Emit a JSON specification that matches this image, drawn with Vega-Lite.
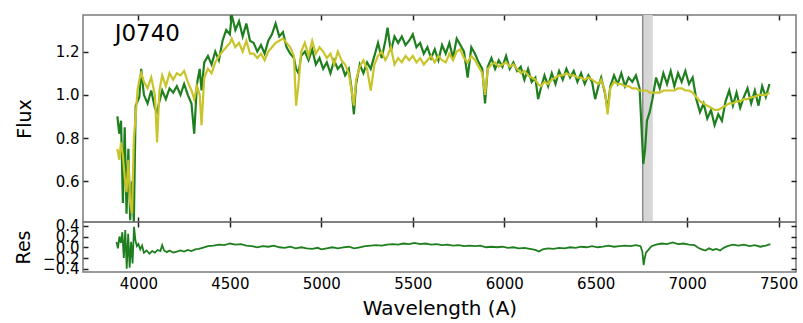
{
  "$schema": "https://vega.github.io/schema/vega-lite/v6.json",
  "autosize": {"type": "pad"},
  "padding": {"left": 13, "top": 13, "right": 7, "bottom": 0},
  "background": "white",
  "spacing": 0,
  "bounds": "flush",
  "config": {
    "view": {"stroke": "#7a7a7a", "strokeWidth": 1.5},
    "font": "DejaVu Sans",
    "axis": {"labelFont": "DejaVu Sans", "titleFont": "DejaVu Sans", "labelColor": "black", "titleColor": "black", "grid": false, "domain": false, "tickColor": "#222222", "tickWidth": 1.5, "labelFontSize": 15, "titleFontSize": 19, "titleFontWeight": "normal"}
  },
  "datasets": {
    "spec": [
      {"w": 3885, "g": 0.90, "m": 0.75}, {"w": 3895, "g": 0.82, "m": 0.70}, {"w": 3905, "g": 0.88, "m": 0.78}, {"w": 3915, "g": 0.50, "m": 0.72},
      {"w": 3925, "g": 0.85, "m": 0.62}, {"w": 3935, "g": 0.45, "m": 0.55}, {"w": 3945, "g": 0.75, "m": 0.70}, {"w": 3955, "g": 0.42, "m": 0.50},
      {"w": 3965, "g": 0.60, "m": 0.45}, {"w": 3975, "g": 0.41, "m": 0.80}, {"w": 3985, "g": 0.95, "m": 0.90}, {"w": 3995, "g": 0.97, "m": 1.02},
      {"w": 4005, "g": 0.99, "m": 1.07}, {"w": 4015, "g": 1.12, "m": 1.10}, {"w": 4030, "g": 1.00, "m": 1.06}, {"w": 4050, "g": 0.96, "m": 1.03},
      {"w": 4070, "g": 1.02, "m": 1.08}, {"w": 4090, "g": 0.94, "m": 1.00}, {"w": 4102, "g": 0.92, "m": 0.78}, {"w": 4115, "g": 0.97, "m": 1.02},
      {"w": 4130, "g": 1.02, "m": 1.09}, {"w": 4150, "g": 0.98, "m": 1.04}, {"w": 4170, "g": 1.03, "m": 1.10}, {"w": 4190, "g": 1.01, "m": 1.07},
      {"w": 4210, "g": 1.04, "m": 1.10}, {"w": 4230, "g": 1.00, "m": 1.09}, {"w": 4250, "g": 1.05, "m": 1.11}, {"w": 4270, "g": 1.00, "m": 1.06},
      {"w": 4290, "g": 0.96, "m": 1.02}, {"w": 4305, "g": 0.82, "m": 0.98}, {"w": 4320, "g": 1.05, "m": 1.04}, {"w": 4335, "g": 1.12, "m": 1.00},
      {"w": 4345, "g": 1.02, "m": 0.86}, {"w": 4360, "g": 1.15, "m": 1.08}, {"w": 4380, "g": 1.18, "m": 1.12}, {"w": 4400, "g": 1.14, "m": 1.10},
      {"w": 4420, "g": 1.20, "m": 1.15}, {"w": 4440, "g": 1.16, "m": 1.18}, {"w": 4460, "g": 1.25, "m": 1.20}, {"w": 4480, "g": 1.30, "m": 1.22},
      {"w": 4500, "g": 1.28, "m": 1.24}, {"w": 4510, "g": 1.37, "m": 1.26}, {"w": 4530, "g": 1.30, "m": 1.22}, {"w": 4550, "g": 1.34, "m": 1.24},
      {"w": 4570, "g": 1.27, "m": 1.20}, {"w": 4590, "g": 1.33, "m": 1.25}, {"w": 4610, "g": 1.25, "m": 1.19}, {"w": 4630, "g": 1.24, "m": 1.19},
      {"w": 4650, "g": 1.20, "m": 1.17}, {"w": 4670, "g": 1.23, "m": 1.19}, {"w": 4690, "g": 1.19, "m": 1.16}, {"w": 4710, "g": 1.25, "m": 1.20},
      {"w": 4730, "g": 1.28, "m": 1.22}, {"w": 4750, "g": 1.33, "m": 1.24}, {"w": 4770, "g": 1.27, "m": 1.25}, {"w": 4790, "g": 1.29, "m": 1.26},
      {"w": 4810, "g": 1.22, "m": 1.24}, {"w": 4830, "g": 1.19, "m": 1.22}, {"w": 4850, "g": 1.17, "m": 1.18}, {"w": 4862, "g": 1.12, "m": 0.95},
      {"w": 4875, "g": 1.10, "m": 1.05}, {"w": 4890, "g": 1.18, "m": 1.20}, {"w": 4910, "g": 1.20, "m": 1.24}, {"w": 4930, "g": 1.16, "m": 1.18},
      {"w": 4950, "g": 1.21, "m": 1.25}, {"w": 4970, "g": 1.14, "m": 1.19}, {"w": 4990, "g": 1.17, "m": 1.22}, {"w": 5010, "g": 1.12, "m": 1.20},
      {"w": 5030, "g": 1.15, "m": 1.17}, {"w": 5050, "g": 1.10, "m": 1.19}, {"w": 5070, "g": 1.16, "m": 1.14}, {"w": 5090, "g": 1.12, "m": 1.20},
      {"w": 5110, "g": 1.14, "m": 1.16}, {"w": 5130, "g": 1.09, "m": 1.14}, {"w": 5150, "g": 1.12, "m": 1.10}, {"w": 5165, "g": 1.03, "m": 1.02},
      {"w": 5178, "g": 0.91, "m": 0.95}, {"w": 5190, "g": 1.05, "m": 1.07}, {"w": 5210, "g": 1.14, "m": 1.13}, {"w": 5230, "g": 1.10, "m": 1.16},
      {"w": 5250, "g": 1.15, "m": 1.12}, {"w": 5270, "g": 1.12, "m": 1.02}, {"w": 5290, "g": 1.18, "m": 1.14}, {"w": 5310, "g": 1.24, "m": 1.18},
      {"w": 5330, "g": 1.17, "m": 1.20}, {"w": 5350, "g": 1.25, "m": 1.16}, {"w": 5362, "g": 1.31, "m": 1.18}, {"w": 5380, "g": 1.20, "m": 1.22},
      {"w": 5400, "g": 1.27, "m": 1.14}, {"w": 5420, "g": 1.24, "m": 1.17}, {"w": 5440, "g": 1.27, "m": 1.15}, {"w": 5460, "g": 1.23, "m": 1.18},
      {"w": 5480, "g": 1.25, "m": 1.16}, {"w": 5500, "g": 1.28, "m": 1.18}, {"w": 5520, "g": 1.22, "m": 1.15}, {"w": 5540, "g": 1.24, "m": 1.17},
      {"w": 5560, "g": 1.19, "m": 1.14}, {"w": 5580, "g": 1.22, "m": 1.16}, {"w": 5600, "g": 1.17, "m": 1.18}, {"w": 5620, "g": 1.21, "m": 1.15},
      {"w": 5640, "g": 1.16, "m": 1.18}, {"w": 5660, "g": 1.23, "m": 1.16}, {"w": 5680, "g": 1.19, "m": 1.15}, {"w": 5700, "g": 1.24, "m": 1.19},
      {"w": 5720, "g": 1.17, "m": 1.16}, {"w": 5740, "g": 1.26, "m": 1.20}, {"w": 5760, "g": 1.23, "m": 1.21}, {"w": 5780, "g": 1.20, "m": 1.17},
      {"w": 5800, "g": 1.08, "m": 1.15}, {"w": 5820, "g": 1.22, "m": 1.18}, {"w": 5840, "g": 1.19, "m": 1.16}, {"w": 5860, "g": 1.15, "m": 1.13},
      {"w": 5880, "g": 1.12, "m": 1.10}, {"w": 5895, "g": 0.96, "m": 1.00}, {"w": 5910, "g": 1.13, "m": 1.12}, {"w": 5930, "g": 1.17, "m": 1.14},
      {"w": 5950, "g": 1.12, "m": 1.15}, {"w": 5970, "g": 1.16, "m": 1.13}, {"w": 5990, "g": 1.13, "m": 1.14}, {"w": 6010, "g": 1.18, "m": 1.15},
      {"w": 6030, "g": 1.12, "m": 1.13}, {"w": 6050, "g": 1.15, "m": 1.14}, {"w": 6070, "g": 1.11, "m": 1.12}, {"w": 6090, "g": 1.13, "m": 1.10},
      {"w": 6110, "g": 1.07, "m": 1.11}, {"w": 6130, "g": 1.12, "m": 1.09}, {"w": 6150, "g": 1.06, "m": 1.08}, {"w": 6170, "g": 1.08, "m": 1.07},
      {"w": 6185, "g": 0.98, "m": 1.05}, {"w": 6200, "g": 1.03, "m": 1.04}, {"w": 6220, "g": 1.09, "m": 1.06}, {"w": 6240, "g": 1.04, "m": 1.05},
      {"w": 6260, "g": 1.10, "m": 1.07}, {"w": 6280, "g": 1.05, "m": 1.08}, {"w": 6300, "g": 1.11, "m": 1.09}, {"w": 6320, "g": 1.07, "m": 1.09},
      {"w": 6340, "g": 1.12, "m": 1.10}, {"w": 6360, "g": 1.08, "m": 1.09}, {"w": 6380, "g": 1.11, "m": 1.09}, {"w": 6400, "g": 1.06, "m": 1.08},
      {"w": 6420, "g": 1.10, "m": 1.08}, {"w": 6440, "g": 1.05, "m": 1.07}, {"w": 6460, "g": 1.09, "m": 1.08}, {"w": 6480, "g": 1.06, "m": 1.07},
      {"w": 6497, "g": 0.98, "m": 1.06}, {"w": 6515, "g": 1.04, "m": 1.05}, {"w": 6530, "g": 1.08, "m": 1.07}, {"w": 6550, "g": 1.01, "m": 1.02},
      {"w": 6565, "g": 0.93, "m": 0.91}, {"w": 6580, "g": 1.04, "m": 1.03}, {"w": 6600, "g": 1.09, "m": 1.06}, {"w": 6620, "g": 1.05, "m": 1.05},
      {"w": 6640, "g": 1.10, "m": 1.05}, {"w": 6660, "g": 1.04, "m": 1.04}, {"w": 6680, "g": 1.08, "m": 1.04}, {"w": 6700, "g": 1.06, "m": 1.03},
      {"w": 6720, "g": 1.09, "m": 1.03}, {"w": 6740, "g": 1.03, "m": 1.02}, {"w": 6760, "g": 0.68, "m": 1.02}, {"w": 6770, "g": 0.75, "m": 1.02},
      {"w": 6780, "g": 0.88, "m": 1.02}, {"w": 6795, "g": 0.92, "m": 1.01}, {"w": 6810, "g": 0.98, "m": 1.01}, {"w": 6830, "g": 1.08, "m": 1.01},
      {"w": 6850, "g": 1.03, "m": 1.01}, {"w": 6870, "g": 1.10, "m": 1.02}, {"w": 6890, "g": 1.05, "m": 1.02}, {"w": 6910, "g": 1.11, "m": 1.02},
      {"w": 6930, "g": 1.04, "m": 1.02}, {"w": 6950, "g": 1.10, "m": 1.03}, {"w": 6970, "g": 1.06, "m": 1.03}, {"w": 6990, "g": 1.11, "m": 1.02},
      {"w": 7010, "g": 1.05, "m": 1.02}, {"w": 7030, "g": 1.08, "m": 1.01}, {"w": 7050, "g": 0.98, "m": 0.99}, {"w": 7070, "g": 0.92, "m": 0.97},
      {"w": 7090, "g": 0.96, "m": 0.96}, {"w": 7110, "g": 0.89, "m": 0.95}, {"w": 7130, "g": 0.93, "m": 0.94}, {"w": 7150, "g": 0.86, "m": 0.93},
      {"w": 7170, "g": 0.91, "m": 0.93}, {"w": 7190, "g": 0.88, "m": 0.94}, {"w": 7210, "g": 0.97, "m": 0.95}, {"w": 7230, "g": 1.02, "m": 0.96},
      {"w": 7250, "g": 0.95, "m": 0.96}, {"w": 7270, "g": 1.01, "m": 0.97}, {"w": 7290, "g": 0.94, "m": 0.97}, {"w": 7310, "g": 0.99, "m": 0.98},
      {"w": 7330, "g": 1.03, "m": 0.98}, {"w": 7350, "g": 0.96, "m": 0.99}, {"w": 7370, "g": 1.02, "m": 0.99}, {"w": 7390, "g": 0.95, "m": 1.00},
      {"w": 7410, "g": 1.04, "m": 1.00}, {"w": 7430, "g": 0.99, "m": 1.00}, {"w": 7450, "g": 1.05, "m": 1.01}
    ],
    "res": [
      {"w": 3880, "r": 0.10}, {"w": 3888, "r": -0.02}, {"w": 3896, "r": 0.20}, {"w": 3904, "r": 0.08}, {"w": 3912, "r": 0.28}, {"w": 3920, "r": -0.20},
      {"w": 3928, "r": 0.32}, {"w": 3936, "r": -0.40}, {"w": 3944, "r": 0.25}, {"w": 3952, "r": -0.38}, {"w": 3960, "r": 0.10}, {"w": 3968, "r": -0.30},
      {"w": 3976, "r": 0.38}, {"w": 3984, "r": 0.12}, {"w": 3992, "r": 0.02}, {"w": 4000, "r": 0.06}, {"w": 4010, "r": -0.04}, {"w": 4020, "r": 0.03},
      {"w": 4030, "r": -0.10}, {"w": 4045, "r": -0.06}, {"w": 4060, "r": -0.12}, {"w": 4075, "r": -0.07}, {"w": 4090, "r": -0.10}, {"w": 4105, "r": -0.05},
      {"w": 4120, "r": -0.07}, {"w": 4130, "r": 0.04}, {"w": 4140, "r": -0.06}, {"w": 4155, "r": -0.09}, {"w": 4170, "r": -0.06}, {"w": 4190, "r": -0.10},
      {"w": 4210, "r": -0.08}, {"w": 4230, "r": -0.06}, {"w": 4250, "r": -0.08}, {"w": 4270, "r": -0.05}, {"w": 4290, "r": -0.07}, {"w": 4310, "r": -0.04},
      {"w": 4330, "r": -0.03}, {"w": 4350, "r": -0.01}, {"w": 4380, "r": 0.02}, {"w": 4410, "r": 0.03}, {"w": 4440, "r": 0.05}, {"w": 4470, "r": 0.04},
      {"w": 4500, "r": 0.07}, {"w": 4530, "r": 0.05}, {"w": 4560, "r": 0.06}, {"w": 4590, "r": 0.03}, {"w": 4620, "r": 0.02}, {"w": 4650, "r": 0.00},
      {"w": 4680, "r": 0.02}, {"w": 4710, "r": 0.01}, {"w": 4740, "r": 0.03}, {"w": 4770, "r": 0.00}, {"w": 4800, "r": -0.01}, {"w": 4830, "r": 0.01},
      {"w": 4860, "r": -0.02}, {"w": 4890, "r": 0.00}, {"w": 4920, "r": -0.02}, {"w": 4950, "r": -0.03}, {"w": 4980, "r": -0.01}, {"w": 5000, "r": -0.04},
      {"w": 5030, "r": -0.02}, {"w": 5060, "r": 0.00}, {"w": 5090, "r": -0.02}, {"w": 5120, "r": 0.00}, {"w": 5150, "r": 0.01}, {"w": 5180, "r": -0.02},
      {"w": 5210, "r": 0.00}, {"w": 5240, "r": 0.02}, {"w": 5270, "r": 0.03}, {"w": 5300, "r": 0.04}, {"w": 5330, "r": 0.03}, {"w": 5360, "r": 0.05},
      {"w": 5390, "r": 0.06}, {"w": 5420, "r": 0.05}, {"w": 5450, "r": 0.07}, {"w": 5480, "r": 0.06}, {"w": 5510, "r": 0.08}, {"w": 5540, "r": 0.06},
      {"w": 5570, "r": 0.07}, {"w": 5600, "r": 0.05}, {"w": 5630, "r": 0.06}, {"w": 5660, "r": 0.04}, {"w": 5690, "r": 0.05}, {"w": 5720, "r": 0.03},
      {"w": 5750, "r": 0.04}, {"w": 5780, "r": 0.02}, {"w": 5810, "r": 0.03}, {"w": 5840, "r": 0.02}, {"w": 5870, "r": 0.03}, {"w": 5900, "r": 0.00},
      {"w": 5930, "r": 0.01}, {"w": 5960, "r": 0.00}, {"w": 5990, "r": 0.01}, {"w": 6020, "r": -0.01}, {"w": 6050, "r": 0.00}, {"w": 6080, "r": -0.02},
      {"w": 6110, "r": -0.01}, {"w": 6140, "r": -0.03}, {"w": 6170, "r": -0.05}, {"w": 6190, "r": -0.08}, {"w": 6210, "r": -0.04}, {"w": 6240, "r": -0.02},
      {"w": 6270, "r": -0.03}, {"w": 6300, "r": -0.01}, {"w": 6330, "r": -0.02}, {"w": 6360, "r": 0.00}, {"w": 6390, "r": -0.01}, {"w": 6420, "r": 0.01},
      {"w": 6450, "r": 0.00}, {"w": 6480, "r": 0.02}, {"w": 6510, "r": 0.00}, {"w": 6540, "r": 0.01}, {"w": 6570, "r": 0.03}, {"w": 6600, "r": 0.01},
      {"w": 6630, "r": 0.02}, {"w": 6660, "r": 0.03}, {"w": 6690, "r": 0.02}, {"w": 6720, "r": 0.04}, {"w": 6745, "r": 0.02}, {"w": 6755, "r": -0.08},
      {"w": 6762, "r": -0.33}, {"w": 6768, "r": -0.20}, {"w": 6775, "r": -0.10}, {"w": 6790, "r": -0.04}, {"w": 6805, "r": 0.02}, {"w": 6830, "r": 0.05},
      {"w": 6860, "r": 0.07}, {"w": 6890, "r": 0.06}, {"w": 6920, "r": 0.09}, {"w": 6950, "r": 0.06}, {"w": 6980, "r": 0.07}, {"w": 7010, "r": 0.05},
      {"w": 7040, "r": 0.04}, {"w": 7060, "r": -0.01}, {"w": 7080, "r": -0.04}, {"w": 7100, "r": -0.06}, {"w": 7120, "r": -0.02}, {"w": 7140, "r": -0.05},
      {"w": 7160, "r": -0.03}, {"w": 7180, "r": -0.06}, {"w": 7200, "r": -0.01}, {"w": 7220, "r": 0.02}, {"w": 7250, "r": 0.05}, {"w": 7280, "r": 0.03},
      {"w": 7310, "r": 0.05}, {"w": 7340, "r": 0.02}, {"w": 7370, "r": 0.04}, {"w": 7400, "r": 0.01}, {"w": 7430, "r": 0.03}, {"w": 7455, "r": 0.06}
    ],
    "band": [{"a": 6757, "b": 6812}],
    "label": [{"w": 3870, "f": 1.28, "t": "J0740"}]
  },
  "vconcat": [
    {
      "width": 713,
      "height": 207,
      "resolve": {"axis": {"x": "independent", "y": "independent"}},
      "layer": [
        {
          "data": {"name": "band"},
          "mark": {"type": "rect", "color": "#d6d6d6"},
          "encoding": {
            "x": {"field": "a", "type": "quantitative", "scale": {"domain": [3697, 7595], "nice": false, "zero": false},
                  "axis": {"orient": "bottom", "values": [4000, 4500, 5000, 5500, 6000, 6500, 7000, 7500], "labels": false, "tickSize": -5, "title": null}},
            "x2": {"field": "b"}
          }
        },
        {
          "data": {"name": "band"},
          "mark": {"type": "rule", "color": "#8c8c8c", "strokeWidth": 1.5},
          "encoding": {
            "x": {"field": "a", "type": "quantitative", "axis": null}
          }
        },
        {
          "data": {"name": "spec"},
          "mark": {"type": "line", "color": "#1f7f1f", "strokeWidth": 2.2, "clip": true},
          "encoding": {
            "x": {"field": "w", "type": "quantitative",
                  "axis": {"orient": "top", "values": [4000, 4500, 5000, 5500, 6000, 6500, 7000, 7500], "labels": false, "tickSize": -5, "title": null}},
            "y": {"field": "g", "type": "quantitative", "scale": {"domain": [0.412, 1.369], "nice": false, "zero": false},
                  "axis": {"orient": "left", "values": [0.6, 0.8, 1.0, 1.2], "format": ".1f", "tickSize": -5, "labelPadding": 9, "title": "Flux", "titlePadding": 21}}
          }
        },
        {
          "data": {"name": "spec"},
          "mark": {"type": "line", "color": "#c9c42a", "strokeWidth": 2.2, "clip": true},
          "encoding": {
            "x": {"field": "w", "type": "quantitative", "axis": null},
            "y": {"field": "m", "type": "quantitative",
                  "axis": {"orient": "right", "values": [0.6, 0.8, 1.0, 1.2], "labels": false, "tickSize": -5, "title": null}}
          }
        },
        {
          "data": {"name": "label"},
          "mark": {"type": "text", "align": "left", "baseline": "middle", "fontSize": 23, "font": "DejaVu Sans", "color": "black"},
          "encoding": {
            "x": {"field": "w", "type": "quantitative", "axis": null},
            "y": {"field": "f", "type": "quantitative", "axis": null},
            "text": {"field": "t"}
          }
        }
      ]
    },
    {
      "width": 713,
      "height": 50,
      "resolve": {"axis": {"x": "independent", "y": "independent"}},
      "layer": [
        {
          "data": {"name": "res"},
          "mark": {"type": "line", "color": "#1f7f1f", "strokeWidth": 1.8, "clip": true},
          "encoding": {
            "x": {"field": "w", "type": "quantitative", "scale": {"domain": [3697, 7595], "nice": false, "zero": false},
                  "axis": {"orient": "bottom", "values": [4000, 4500, 5000, 5500, 6000, 6500, 7000, 7500], "format": "d", "ticks": false, "labelPadding": 4, "title": "Wavelength (A)", "titleFontSize": 20, "titlePadding": 7}},
            "y": {"field": "r", "type": "quantitative", "scale": {"domain": [-0.46, 0.47], "nice": false, "zero": false},
                  "axis": {"orient": "left", "values": [-0.4, -0.2, 0, 0.2, 0.4], "format": ".1f", "labelOverlap": false, "tickSize": -5, "labelPadding": 9, "title": "Res", "titlePadding": 9}}
          }
        },
        {
          "data": {"name": "res"},
          "mark": {"type": "line", "strokeOpacity": 0},
          "encoding": {
            "x": {"field": "w", "type": "quantitative",
                  "axis": {"orient": "top", "values": [4000, 4500, 5000, 5500, 6000, 6500, 7000, 7500], "labels": false, "tickSize": -5, "title": null}},
            "y": {"field": "r", "type": "quantitative",
                  "axis": {"orient": "right", "values": [-0.4, -0.2, 0, 0.2, 0.4], "labels": false, "tickSize": -5, "title": null}}
          }
        }
      ]
    }
  ]
}
